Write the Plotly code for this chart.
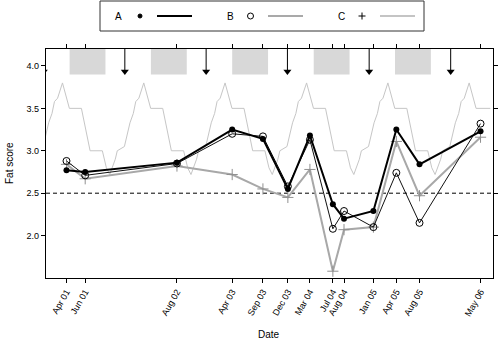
import plotly.graph_objects as go

# ---------------- data ----------------
tick_labels = ["Apr 01", "Jun 01", "Aug 02", "Apr 03", "Sep 03", "Dec 03", "Mar 04",
               "Jul 04", "Aug 04", "Jan 05", "Apr 05", "Aug 05", "May 06"]
sample_dates = ["2001-04-03", "2001-06-26", "2002-08-12", "2003-04-17", "2003-09-02",
                "2003-12-23", "2004-03-31", "2004-07-12", "2004-08-31", "2005-01-10",
                "2005-04-23", "2005-08-05", "2006-05-06"]
series_A = [2.77, 2.75, 2.86, 3.25, 3.14, 2.55, 3.18, 2.37, 2.20, 2.29, 3.25, 2.84, 3.23]
series_B = [2.88, 2.71, 2.85, 3.20, 3.17, 2.58, 3.13, 2.08, 2.29, 2.10, 2.74, 2.15, 3.32]
series_C = [2.84, 2.67, 2.82, 2.72, 2.55, 2.45, 2.78, 1.58, 2.07, 2.10, 3.11, 2.47, 3.16]

# seasonal reference profile (month-day, value), repeated each year
season_md = ["01-13", "01-28", "02-08", "02-22", "03-16", "04-16", "06-09", "07-18",
             "09-11", "09-29", "10-14", "11-08", "11-17", "12-19"]
season_val = [3.33, 3.44, 3.58, 3.62, 3.80, 3.50, 3.50, 3.00,
              3.00, 2.80, 2.72, 2.90, 3.00, 3.05]
season_years = [2000, 2001, 2002, 2003, 2004, 2005, 2006]
season_start, season_end = "2000-12-01", "2006-06-19"

# grey periods and arrow dates
rect_years = [2001, 2002, 2003, 2004, 2005]
rect_start_md, rect_end_md = "04-17", "09-25"
arrow_dates = ["2000-12-22", "2001-12-21", "2002-12-21", "2003-12-21", "2004-12-22", "2005-12-23"]

threshold = 2.5
x_range = ["2001-01-01", "2006-07-01"]
y_range = [1.5, 4.2]
y_ticks = [2.0, 2.5, 3.0, 3.5, 4.0]

# ---------------- build ----------------
sx, sy = [], []
for yr in season_years:
    for md, v in zip(season_md, season_val):
        d = f"{yr}-{md}"
        if season_start <= d <= season_end:
            sx.append(d)
            sy.append(v)
sx.append(season_end)
sy.append(3.50)

FONT = "Liberation Sans, Arial, sans-serif"
fig = go.Figure()

fig.add_trace(go.Scatter(x=sx, y=sy, mode="lines", line=dict(color="#c6c6c6", width=1),
                         hoverinfo="skip", showlegend=False))

# arrows
ax_, ay_ = [], []
for d in arrow_dates:
    ax_ += [d, d, None]
    ay_ += [4.2, 3.94, None]
fig.add_trace(go.Scatter(x=ax_, y=ay_, mode="lines", line=dict(color="black", width=1),
                         hoverinfo="skip", showlegend=False))
fig.add_trace(go.Scatter(x=arrow_dates, y=[3.935] * len(arrow_dates), mode="markers",
                         marker=dict(symbol="triangle-down", size=7, color="black"),
                         hoverinfo="skip", showlegend=False))

fig.add_trace(go.Scatter(x=sample_dates, y=series_C, mode="lines+markers", name="C",
                         line=dict(color="#a8a8a8", width=2),
                         marker=dict(symbol="cross-thin", size=8,
                                     line=dict(color="#909090", width=1)),
                         showlegend=False))
fig.add_trace(go.Scatter(x=sample_dates, y=series_B, mode="lines+markers", name="B",
                         line=dict(color="#111111", width=1),
                         marker=dict(symbol="circle-open", size=7, color="black",
                                     line=dict(width=1)),
                         showlegend=False))
fig.add_trace(go.Scatter(x=sample_dates, y=series_A, mode="lines+markers", name="A",
                         line=dict(color="black", width=2),
                         marker=dict(symbol="circle", size=6, color="black"),
                         showlegend=False))

shapes = []
for yr in rect_years:
    shapes.append(dict(type="rect", xref="x", yref="y", x0=f"{yr}-{rect_start_md}",
                       x1=f"{yr}-{rect_end_md}", y0=3.9, y1=4.2,
                       fillcolor="#d8d8d8", line=dict(width=0), layer="below"))
shapes.append(dict(type="line", xref="paper", yref="y", x0=0, x1=1, y0=threshold, y1=threshold,
                   line=dict(color="black", width=1, dash="4px,3px"), layer="below"))

# ---- custom legend (paper coords) ----
W, H, L, B = 447.0, 229.0, 46.0, 278.0
def px(x):
    return (x - L) / W
def py(y):
    return (B - y) / H

shapes.append(dict(type="rect", xref="paper", yref="paper", x0=px(100), x1=px(424),
                   y0=py(31), y1=py(1), line=dict(color="#333333", width=1),
                   fillcolor="white"))
ly = 16
# A
shapes.append(dict(type="circle", xref="paper", yref="paper", x0=px(138), x1=px(142),
                   y0=py(ly + 2), y1=py(ly - 2), fillcolor="black", line=dict(color="black", width=1)))
shapes.append(dict(type="line", xref="paper", yref="paper", x0=px(157), x1=px(192),
                   y0=py(ly), y1=py(ly), line=dict(color="black", width=2)))
# B
shapes.append(dict(type="circle", xref="paper", yref="paper", x0=px(247.5), x1=px(253.5),
                   y0=py(ly + 3), y1=py(ly - 3), line=dict(color="black", width=1)))
shapes.append(dict(type="line", xref="paper", yref="paper", x0=px(268), x1=px(303),
                   y0=py(ly), y1=py(ly), line=dict(color="#555555", width=1.2)))
# C
shapes.append(dict(type="line", xref="paper", yref="paper", x0=px(358.5), x1=px(365.5),
                   y0=py(ly), y1=py(ly), line=dict(color="black", width=1)))
shapes.append(dict(type="line", xref="paper", yref="paper", x0=px(362), x1=px(362),
                   y0=py(ly - 3.5), y1=py(ly + 3.5), line=dict(color="black", width=1)))
shapes.append(dict(type="line", xref="paper", yref="paper", x0=px(380), x1=px(415),
                   y0=py(ly), y1=py(ly), line=dict(color="#b0b0b0", width=1.5)))

annotations = []
for txt, x in [("A", 118), ("B", 230), ("C", 341)]:
    annotations.append(dict(text=txt, xref="paper", yref="paper", x=px(x), y=py(ly),
                            showarrow=False, xanchor="center", yanchor="middle",
                            font=dict(size=10, color="black", family=FONT)))
# axis titles
annotations.append(dict(text="Date", xref="paper", yref="paper", x=px(269), y=py(334),
                        showarrow=False, xanchor="center", yanchor="middle",
                        font=dict(size=10, color="black", family=FONT)))
annotations.append(dict(text="Fat score", xref="paper", yref="paper", x=px(9), y=py(163),
                        showarrow=False, xanchor="center", yanchor="middle", textangle=-90,
                        font=dict(size=10, color="black", family=FONT)))

fig.update_layout(
    width=500, height=341,
    margin=dict(l=46, r=7, t=49, b=63, autoexpand=False),
    plot_bgcolor="white", paper_bgcolor="white",
    font=dict(family=FONT, size=9, color="black"),
    shapes=shapes, annotations=annotations,
    showlegend=False,
    xaxis=dict(type="date", range=x_range, tickvals=sample_dates, ticktext=tick_labels,
               tickangle=-60, ticks="outside", ticklen=4, tickcolor="black",
               showline=True, linecolor="black", linewidth=1.3, mirror="ticks",
               showgrid=False, zeroline=False, tickfont=dict(size=9), automargin=False),
    yaxis=dict(range=y_range, tickvals=y_ticks, ticktext=[f"{v:.1f}" for v in y_ticks],
               ticks="outside", ticklen=4, tickcolor="black",
               showline=True, linecolor="black", linewidth=1.3, mirror="ticks",
               showgrid=False, zeroline=False, tickfont=dict(size=9), automargin=False),
)

fig.write_html("out.html", config={"displayModeBar": False},
               post_script="document.body.style.margin='0';document.body.style.overflow='hidden';")
